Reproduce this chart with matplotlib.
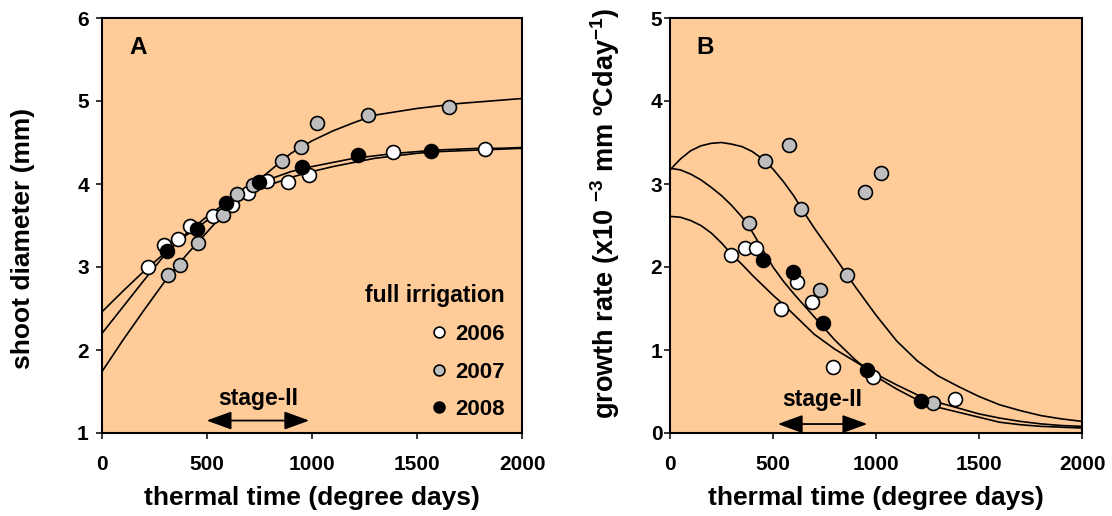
import matplotlib
matplotlib.use('Agg')
import matplotlib.pyplot as plt
from matplotlib.lines import Line2D

plt.rcParams['font.family'] = ['Liberation Sans', 'DejaVu Sans']
plt.rcParams['font.weight'] = 'bold'
plt.rcParams['mathtext.fontset'] = 'custom'
plt.rcParams['mathtext.rm'] = 'Liberation Sans:bold'
plt.rcParams['mathtext.it'] = 'Liberation Sans:bold'
plt.rcParams['mathtext.bf'] = 'Liberation Sans:bold'
plt.rcParams['mathtext.default'] = 'rm'

# ---------------- data ----------------
years = ['2006', '2007', '2008']
year_colors = ['white', '#BEBEBE', 'black']

# Panel A: shoot diameter (mm) observations
a_x_2006 = [221, 297, 363, 419, 530, 617, 697, 784, 887, 986, 1384, 1824]
a_y_2006 = [3.00, 3.27, 3.34, 3.49, 3.61, 3.75, 3.89, 4.04, 4.03, 4.11, 4.38, 4.42]
a_x_2007 = [316, 371, 459, 575, 641, 721, 858, 946, 1022, 1268, 1652]
a_y_2007 = [2.90, 3.03, 3.29, 3.63, 3.88, 3.99, 4.28, 4.45, 4.74, 4.83, 4.93]
a_x_2008 = [308, 451, 590, 749, 954, 1221, 1565]
a_y_2008 = [3.19, 3.46, 3.77, 4.02, 4.21, 4.35, 4.40]

# Panel A: fitted curves
a_curve_x = [0, 100, 200, 300, 400, 500, 600, 700, 800, 900, 1000,
             1100, 1200, 1300, 1400, 1500, 1600, 1700, 1800, 1900, 2000]
a_fit_2006 = [2.46, 2.71, 2.95, 3.17, 3.38, 3.56, 3.73, 3.88, 3.99, 4.08, 4.15,
              4.21, 4.26, 4.31, 4.34, 4.37, 4.39, 4.40, 4.41, 4.42, 4.43]
a_fit_2007 = [1.74, 2.12, 2.48, 2.83, 3.14, 3.42, 3.70, 3.95, 4.16, 4.37, 4.52,
              4.64, 4.74, 4.83, 4.87, 4.91, 4.94, 4.97, 4.99, 5.01, 5.03]
a_fit_2008 = [2.20, 2.52, 2.84, 3.15, 3.40, 3.61, 3.79, 3.94, 4.06, 4.15, 4.21,
              4.26, 4.31, 4.34, 4.37, 4.39, 4.41, 4.42, 4.43, 4.43, 4.44]

# Panel B: growth rate (x10^-3 mm/degree-day) observations
b_x_2006 = [295, 362, 419, 540, 618, 688, 793, 987, 1383]
b_y_2006 = [2.14, 2.23, 2.23, 1.49, 1.82, 1.58, 0.79, 0.67, 0.41]
b_x_2007 = [385, 461, 578, 636, 728, 858, 947, 1024, 1278]
b_y_2007 = [2.53, 3.28, 3.47, 2.70, 1.72, 1.90, 2.90, 3.13, 0.36]
b_x_2008 = [453, 599, 744, 955, 1218]
b_y_2008 = [2.09, 1.94, 1.32, 0.76, 0.38]

# Panel B: fitted curves
b_curve_x = [0, 50, 100, 150, 200, 250, 300, 350, 400, 450, 500, 550, 600, 650,
             700, 800, 900, 1000, 1100, 1200, 1300, 1400, 1500, 1600, 1700,
             1800, 1900, 2000]
b_fit_2006 = [2.61, 2.60, 2.56, 2.50, 2.41, 2.29, 2.15, 2.03, 1.90, 1.78, 1.66,
              1.55, 1.43, 1.31, 1.19, 1.01, 0.86, 0.71, 0.58, 0.46, 0.37, 0.30,
              0.23, 0.18, 0.14, 0.11, 0.09, 0.08]
b_fit_2007 = [3.17, 3.30, 3.40, 3.46, 3.49, 3.50, 3.48, 3.45, 3.39, 3.30, 3.18,
              3.03, 2.86, 2.66, 2.47, 2.12, 1.76, 1.42, 1.11, 0.87, 0.69, 0.56,
              0.44, 0.34, 0.27, 0.21, 0.17, 0.14]
b_fit_2008 = [3.19, 3.17, 3.12, 3.05, 2.96, 2.86, 2.74, 2.60, 2.42, 2.21, 2.00,
              1.83, 1.68, 1.54, 1.40, 1.12, 0.88, 0.68, 0.53, 0.40, 0.31, 0.25,
              0.19, 0.13, 0.10, 0.08, 0.07, 0.06]

x_ticks = [0, 500, 1000, 1500, 2000]
a_y_ticks = [1, 2, 3, 4, 5, 6]
b_y_ticks = [0, 1, 2, 3, 4, 5]
stage_a = (498, 987)
stage_b = (523, 958)

# ---------------- figure ----------------
BG = '#FFCC99'
fig = plt.figure(figsize=(11.12, 5.16), dpi=100)
axA = fig.add_axes([102/1112, 1-433/516, 420/1112, 415/516])
axB = fig.add_axes([670/1112, 1-433/516, 412/1112, 415/516])

MS = 10
MEW = 1.2
LW = 1.2
TICK_FS = 15
LABEL_FS = 19


def style(ax, yticks, ylim, ypad):
    ax.set_facecolor(BG)
    ax.set_xlim(0, 2000)
    ax.set_ylim(*ylim)
    ax.set_xticks(x_ticks)
    ax.set_yticks(yticks)
    ax.tick_params(axis='both', direction='out', length=4, width=1.1,
                   labelsize=TICK_FS, top=False, right=False)
    ax.tick_params(axis='x', pad=12)
    ax.tick_params(axis='y', pad=ypad)
    for s in ax.spines.values():
        s.set_linewidth(1.5)
    for lab in ax.get_xticklabels() + ax.get_yticklabels():
        lab.set_fontweight('bold')
    ax.set_xlabel('thermal time (degree days)', fontsize=LABEL_FS, fontweight='bold')
    ax.xaxis.set_label_coords(0.5, -0.128)


def stage_arrow(ax, span, y_arrow, y_text):
    ax.annotate('', xy=(span[0], y_arrow), xytext=(span[1], y_arrow),
                arrowprops=dict(arrowstyle='<|-|>,head_length=1.1,head_width=0.4',
                                color='black', lw=1.3, shrinkA=0, shrinkB=0,
                                mutation_scale=14))
    ax.text((span[0] + span[1]) / 2, y_text, 'stage-II', fontsize=16.5,
            fontweight='bold', ha='center', va='center')


# Panel A
style(axA, a_y_ticks, (1, 6), 5.5)
for fit in (a_fit_2006, a_fit_2007, a_fit_2008):
    axA.plot(a_curve_x, fit, color='black', lw=LW, zorder=2)
for xs, ys, c in ((a_x_2006, a_y_2006, year_colors[0]),
                  (a_x_2007, a_y_2007, year_colors[1]),
                  (a_x_2008, a_y_2008, year_colors[2])):
    axA.plot(xs, ys, 'o', ms=MS, mfc=c, mec='black', mew=MEW, ls='none', zorder=3)
axA.set_ylabel('shoot diameter (mm)', fontsize=LABEL_FS, fontweight='bold')
axA.yaxis.set_label_coords(-0.16, 0.47)
axA.text(0.065, 0.93, 'A', transform=axA.transAxes, fontsize=17.5,
         fontweight='bold', ha='left', va='center')
stage_arrow(axA, stage_a, 1.15, 1.42)

handles = [Line2D([], [], marker='o', ls='none', ms=7.8, mfc=c, mec='black', mew=1.2)
           for c in year_colors]
leg = axA.legend(handles, years, title='full irrigation', loc='lower right',
                 bbox_to_anchor=(0.986, 0.004), frameon=False, fontsize=16,
                 title_fontsize=16.5, alignment='right', borderpad=0,
                 labelspacing=0.75, handlelength=0.8, handletextpad=0.35)
leg.get_title().set_fontweight('bold')
for t in leg.get_texts():
    t.set_fontweight('bold')

# Panel B
style(axB, b_y_ticks, (0, 5), 1.5)
for fit in (b_fit_2006, b_fit_2007, b_fit_2008):
    axB.plot(b_curve_x, fit, color='black', lw=LW, zorder=2)
for xs, ys, c in ((b_x_2007, b_y_2007, year_colors[1]),
                  (b_x_2006, b_y_2006, year_colors[0]),
                  (b_x_2008, b_y_2008, year_colors[2])):
    axB.plot(xs, ys, 'o', ms=MS, mfc=c, mec='black', mew=MEW, ls='none', zorder=3)
axB.set_ylabel('growth rate (x10 $^{-3}$ mm ºCday$^{-1}$)', fontsize=LABEL_FS + 0.5,
               fontweight='bold')
axB.yaxis.set_label_coords(-0.117, 0.53)
axB.text(0.065, 0.93, 'B', transform=axB.transAxes, fontsize=17.5,
         fontweight='bold', ha='left', va='center')
stage_arrow(axB, stage_b, 0.108, 0.40)

fig.savefig('out.png', dpi=100, facecolor='white')
